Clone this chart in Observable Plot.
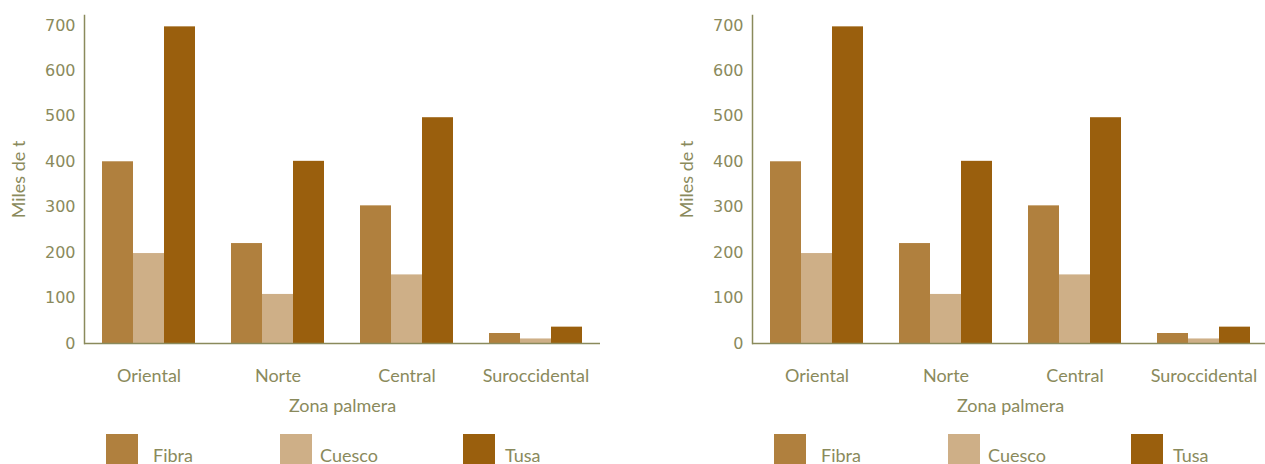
<!DOCTYPE html>
<html>
<head>
<meta charset="utf-8">
<script src="https://cdn.jsdelivr.net/npm/d3@7"></script>
<script src="https://cdn.jsdelivr.net/npm/@observablehq/plot@0.6"></script>
<style>
  html, body { margin: 0; padding: 0; background: #fff; }
  body { width: 1265px; height: 464px; overflow: hidden; position: relative; }
  .panel { position: absolute; top: 0; width: 632px; height: 464px; }
  .panel svg { position: absolute; left: 0; top: 0; overflow: visible; }
  .swatch { position: absolute; top: 434px; width: 32px; height: 32px; }
  .ltext { position: absolute; top: 446px; font-family: Lato, sans-serif; font-size: 18px; line-height: 18px; color: #8a8a5c; }
</style>
</head>
<body>
<script>
const zones = ["Oriental", "Norte", "Central", "Suroccidental"];
const series = ["Fibra", "Cuesco", "Tusa"];
const fibra = [400, 220, 303, 22];
const cuesco = [198, 108, 151, 10];
const tusa = [697, 401, 497, 36];
const colors = ["#b0803e", "#ceaf87", "#9a5f0d"];
const yTicks = [0, 100, 200, 300, 400, 500, 600, 700];
const textColor = "#8a8a5c";

const seriesValues = [fibra, cuesco, tusa];
const data = [];
zones.forEach((z, i) => series.forEach((s, j) => data.push({zone: z, series: s, value: seriesValues[j][i]})));

function makePanel(left) {
  const panel = document.createElement("div");
  panel.className = "panel";
  panel.style.left = left + "px";
  const chart = Plot.plot({
    width: 632,
    height: 430,
    marginLeft: 84,
    marginRight: 32,
    marginTop: 15,
    marginBottom: 87,
    style: {background: "transparent", color: textColor, fontFamily: "Lato, sans-serif", fontSize: "16px"},
    fx: {domain: zones, padding: 0},
    x: {domain: series, axis: null, paddingInner: 0, paddingOuter: 0.52},
    y: {domain: [0, 722]},
    color: {domain: series, range: colors},
    marks: [
      Plot.frame({anchor: "left", facetAnchor: "left", stroke: textColor, strokeWidth: 1.5}),
      Plot.axisY(yTicks, {tickSize: 0, tickPadding: 9, fontFamily: "DejaVu Sans, sans-serif", fontSize: 16, label: null}),
      Plot.axisY({ticks: [], tickSize: 0, label: "Miles de t", labelAnchor: "center", labelOffset: 72, labelArrow: "none", fontFamily: "Lato, sans-serif", fontSize: 18}),
      Plot.axisFx({anchor: "bottom", tickSize: 0, tickPadding: 26, fontFamily: "Lato, sans-serif", fontSize: 18, label: "Zona palmera", labelAnchor: "center", labelOffset: 68, labelArrow: "none"}),
      Plot.barY(data, {fx: "zone", x: "series", y: "value", fill: "series"}),
      Plot.ruleY([0], {stroke: textColor, strokeWidth: 1.5})
    ]
  });
  panel.appendChild(chart);
  const legendPos = [[106, 153], [280, 320], [463, 505]];
  series.forEach((s, j) => {
    const sw = document.createElement("div");
    sw.className = "swatch";
    sw.style.left = legendPos[j][0] + "px";
    sw.style.background = colors[j];
    panel.appendChild(sw);
    const t = document.createElement("div");
    t.className = "ltext";
    t.style.left = legendPos[j][1] + "px";
    t.textContent = s;
    panel.appendChild(t);
  });
  document.body.appendChild(panel);
}
makePanel(0);
makePanel(668);
</script>
</body>
</html>
